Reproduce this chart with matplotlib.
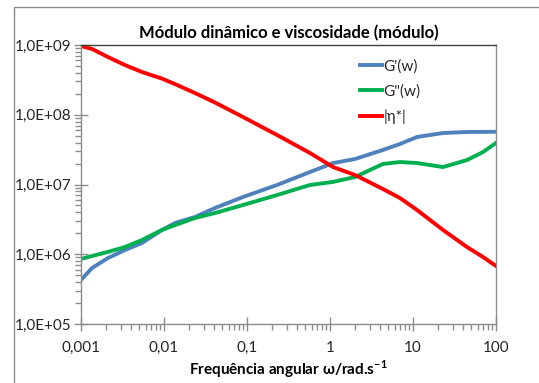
import matplotlib
matplotlib.use("Agg")
import matplotlib.pyplot as plt
import matplotlib.patches as mpatches
from matplotlib.ticker import FixedLocator, FixedFormatter, LogLocator, NullFormatter

plt.rcParams["font.family"] = ["Lato", "DejaVu Sans"]

# angular frequency (rad/s)
freq = [0.001, 0.00136, 0.00211, 0.00339, 0.00543, 0.00946, 0.0136, 0.0236,
        0.0411, 0.0895, 0.230, 0.574, 1.09, 2.0, 4.35, 6.97, 11.2, 23.0,
        44.7, 69.7, 100.0]
g_storage = [4.28e5, 6.35e5, 8.83e5, 1.15e6, 1.45e6, 2.23e6, 2.81e6, 3.42e6,
             4.60e6, 6.62e6, 9.84e6, 1.51e7, 2.03e7, 2.32e7, 3.13e7, 3.81e7,
             4.80e7, 5.47e7, 5.66e7, 5.68e7, 5.70e7]
g_loss = [8.55e5, 9.44e5, 1.08e6, 1.27e6, 1.60e6, 2.23e6, 2.62e6, 3.31e6,
          3.90e6, 5.08e6, 7.06e6, 9.84e6, 1.09e7, 1.28e7, 1.97e7, 2.10e7,
          2.03e7, 1.78e7, 2.24e7, 2.92e7, 3.94e7]
eta = [9.68e8, 8.77e8, 6.73e8, 5.16e8, 4.10e8, 3.30e8, 2.75e8, 2.05e8,
       1.50e8, 9.29e7, 5.13e7, 2.83e7, 1.78e7, 1.37e7, 8.61e6, 6.40e6,
       4.31e6, 2.23e6, 1.27e6, 9.14e5, 6.79e5]

x_ticks = [0.001, 0.01, 0.1, 1, 10, 100]
x_labels = ["0,001", "0,01", "0,1", "1", "10", "100"]
y_ticks = [1e5, 1e6, 1e7, 1e8, 1e9]
y_labels = ["1,0E+05", "1,0E+06", "1,0E+07", "1,0E+08", "1,0E+09"]

fig = plt.figure(figsize=(5.39, 3.83), dpi=100)
ax = fig.add_axes([81 / 539, 59 / 383, 415 / 539, 279 / 383])

# outer chart border
fig.patches.append(mpatches.Rectangle((14 / 539, -0.05), 1.1, 1 - 7 / 383 + 0.05,
                                      transform=fig.transFigure, fill=False,
                                      edgecolor="#8c8c8c", linewidth=1.0))

ax.plot(freq, g_storage, color="#4f81bd", lw=2.8, label="G'(w)")
ax.plot(freq, g_loss, color="#00b050", lw=2.8, label='G"(w)')
ax.plot(freq, eta, color="#ff0000", lw=2.8, label="|\u03b7*|")

ax.set_xscale("log")
ax.set_yscale("log")
ax.set_xlim(0.001, 100)
ax.set_ylim(1e5, 1e9)

ax.xaxis.set_major_locator(FixedLocator(x_ticks))
ax.xaxis.set_major_formatter(FixedFormatter(x_labels))
ax.yaxis.set_major_locator(FixedLocator(y_ticks))
ax.yaxis.set_major_formatter(FixedFormatter(y_labels))
for axis in (ax.xaxis, ax.yaxis):
    axis.set_minor_locator(LogLocator(base=10, subs=range(2, 10)))
    axis.set_minor_formatter(NullFormatter())

ax.tick_params(which="major", direction="inout", length=10, width=1,
               color="#8c8c8c", labelsize=11, labelcolor="#262626", pad=2)
ax.tick_params(axis="x", which="major", pad=7)
ax.tick_params(which="minor", direction="out", length=4, width=1, color="#8c8c8c")

for s in ax.spines.values():
    s.set_color("#8c8c8c")
    s.set_linewidth(1.0)
ax.spines["top"].set_color("#404040")

ax.set_title("M\u00f3dulo din\u00e2mico e viscosidade (m\u00f3dulo)",
             fontsize=12, fontweight="bold", pad=5)
ax.set_xlabel("Frequ\u00eancia angular \u03c9/rad.s$^{\\mathregular{-1}}$",
              fontsize=11, fontweight="bold", labelpad=3)

leg = ax.legend(loc="upper left", bbox_to_anchor=(0.672, 0.95), frameon=False,
                fontsize=11, handlelength=1.45, handletextpad=0.1, labelspacing=0.72,
                borderpad=0, borderaxespad=0)
for t in leg.get_texts():
    t.set_color("#262626")

fig.savefig("out.png", dpi=100, facecolor="white")
